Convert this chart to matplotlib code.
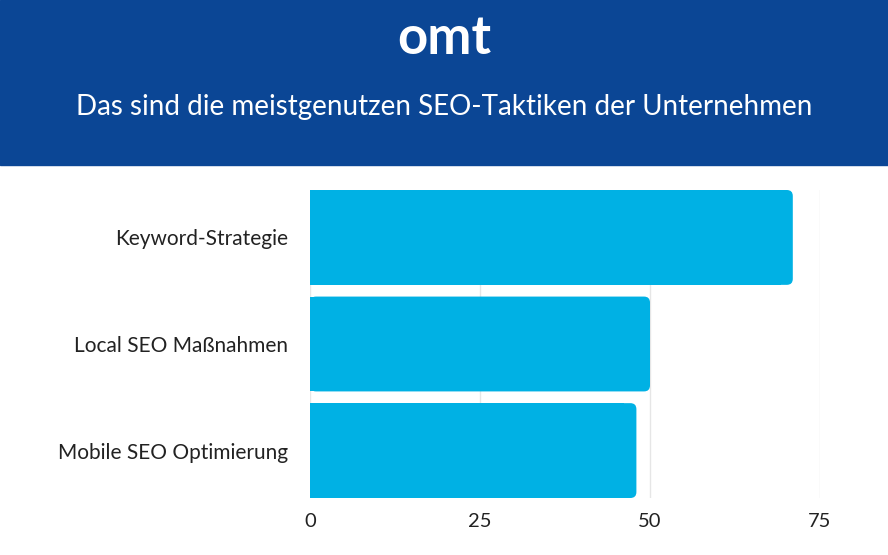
import matplotlib.pyplot as plt
from matplotlib.patches import FancyBboxPatch, Rectangle

categories = ["Keyword-Strategie", "Local SEO Maßnahmen", "Mobile SEO Optimierung"]
values = [71, 50, 48]
xticks = [0, 25, 50, 75]
title = "Das sind die meistgenutzen SEO-Taktiken der Unternehmen"

BAR = "#00b1e4"
HEAD = "#0b4695"

plt.rcParams['font.family'] = ['Lato', 'DejaVu Sans']

fig = plt.figure(figsize=(8.88, 5.55), dpi=100)

# header band
fig.patches.append(Rectangle((0, 1 - 165 / 555), 1, 165 / 555, transform=fig.transFigure,
                             color=HEAD, zorder=0))
fig.text(0.5, 1 - 39 / 555, "omt", color="white", fontsize=38, fontweight="bold",
         ha="center", va="center")
fig.text(0.5, 1 - 107 / 555, title, color="white", fontsize=20, ha="center", va="center")

ax = fig.add_axes([310 / 888, 1 - 498 / 555, 510 / 888, 308 / 555])
ax.set_xlim(0, 75)
ax.set_ylim(2.445, -0.445)

h = 0.89
px_x = 510 / 75       # pixels per x unit
px_y = 308 / 2.89     # pixels per y unit
r = 6 / px_x
for i, v in enumerate(values):
    ax.add_patch(FancyBboxPatch((0, i - h / 2), v, h,
                                boxstyle=f"round,pad=0,rounding_size={r}",
                                mutation_aspect=px_x / px_y,
                                facecolor=BAR, edgecolor="none", zorder=3))
    # square off the left end
    ax.add_patch(Rectangle((0, i - h / 2), v - 2 * r, h, facecolor=BAR,
                           edgecolor="none", antialiased=False, zorder=3))

ax.set_yticks(range(len(categories)))
ax.set_yticklabels(categories, fontsize=15, color="#222222")
ax.set_xticks(xticks)
ax.set_xticklabels([str(t) for t in xticks], fontsize=14.5, color="#222222")
ax.tick_params(length=0)
ax.tick_params(axis="y", pad=16)
ax.tick_params(axis="x", pad=11)
ax.grid(axis="x", color="#e6e6e6", linewidth=1, zorder=0)
ax.set_axisbelow(True)
for s in ax.spines.values():
    s.set_visible(False)

fig.savefig("out.png", dpi=100)
